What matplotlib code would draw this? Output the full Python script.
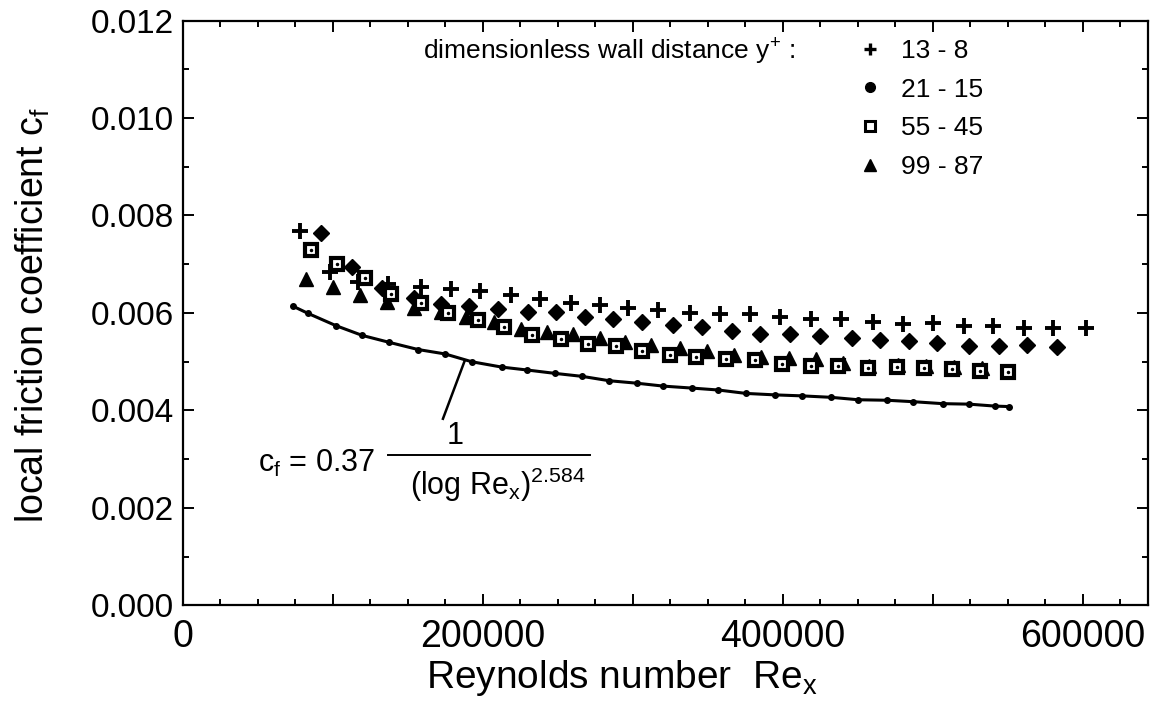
import matplotlib
matplotlib.use('Agg')
import matplotlib.pyplot as plt
from matplotlib.lines import Line2D
from matplotlib.ticker import MultipleLocator, FuncFormatter

# ─── data ────────────────────────────────────────────────────────────────────
# y+ = 13 - 8
RE_13 = [78000, 98000, 117000, 137000, 159000, 179000, 198000, 219000, 238000,
         259000, 278000, 297000, 317000, 338000, 358000, 378000, 398000, 419000,
         439000, 460000, 480000, 500000, 521000, 540000, 561000, 580000, 602000]
CF_13 = [0.00768, 0.00685, 0.00663, 0.00659, 0.00654, 0.00650, 0.00645, 0.00636,
         0.00628, 0.00621, 0.00616, 0.00611, 0.00606, 0.00601, 0.00597, 0.00597,
         0.00591, 0.00587, 0.00587, 0.00582, 0.00577, 0.00579, 0.00573, 0.00573,
         0.00569, 0.00569, 0.00569]

# y+ = 21 - 15
RE_21 = [92000, 113000, 133000, 154000, 172000, 191000, 210000, 230000, 249000,
         268000, 287000, 306000, 327000, 346000, 366000, 385000, 405000, 425000,
         446000, 465000, 484000, 503000, 524000, 544000, 563000, 583000]
CF_21 = [0.00765, 0.00695, 0.00651, 0.00630, 0.00618, 0.00615, 0.00609, 0.00603,
         0.00602, 0.00591, 0.00587, 0.00582, 0.00575, 0.00572, 0.00563, 0.00557,
         0.00557, 0.00553, 0.00549, 0.00544, 0.00543, 0.00538, 0.00532, 0.00532,
         0.00534, 0.00530]

# y+ = 55 - 45
RE_55 = [85500, 103000, 121500, 139000, 159000, 177000, 197000, 214000, 233000,
         252000, 270000, 289000, 306000, 325000, 342000, 362000, 381500, 399500,
         419000, 437000, 457000, 476000, 494000, 513000, 531500, 550000]
CF_55 = [0.00730, 0.00700, 0.00671, 0.00639, 0.00620, 0.00600, 0.00586, 0.00571,
         0.00555, 0.00546, 0.00537, 0.00532, 0.00521, 0.00514, 0.00510, 0.00506,
         0.00503, 0.00496, 0.00492, 0.00492, 0.00488, 0.00490, 0.00487, 0.00485,
         0.00482, 0.00478]

# y+ = 99 - 87
RE_99 = [82500, 100500, 118000, 136000, 154000, 172000, 189000, 207500, 225500,
         243000, 260500, 278000, 295000, 312500, 331500, 349500, 367500, 385500,
         404000, 422000, 440500, 457500, 477000, 495500, 514000, 533000]
CF_99 = [0.00669, 0.00653, 0.00637, 0.00623, 0.00610, 0.00602, 0.00592, 0.00582,
         0.00568, 0.00560, 0.00556, 0.00548, 0.00541, 0.00534, 0.00528, 0.00522,
         0.00513, 0.00509, 0.00507, 0.00505, 0.00497, 0.00491, 0.00493, 0.00491,
         0.00489, 0.00487]

# correlation curve c_f = 0.37 / (log Re_x)^2.584
RE_CORR = [73500, 83700, 102200, 119700, 137400, 157000, 174900, 192700, 212700,
           229700, 248500, 266300, 284400, 302700, 320400, 339300, 357100, 375500,
           394900, 412700, 432200, 450400, 469500, 487100, 506700, 524200, 541500,
           551000]
CF_CORR = [0.00614, 0.00599, 0.00574, 0.00554, 0.00540, 0.00525, 0.00516, 0.00500,
           0.00489, 0.00483, 0.00476, 0.00470, 0.00461, 0.00456, 0.00450, 0.00446,
           0.00442, 0.00435, 0.00432, 0.00430, 0.00427, 0.00422, 0.00421, 0.00418,
           0.00414, 0.00413, 0.00409, 0.00408]

LABELS = ["13 - 8", "21 - 15", "55 - 45", "99 - 87"]

plt.rcParams.update({
    "font.family": ["Liberation Sans", "DejaVu Sans"],
    "font.size": 19,
    "mathtext.fontset": "custom",
    "mathtext.rm": "Liberation Sans",
    "mathtext.it": "Liberation Sans:italic",
    "axes.linewidth": 1.6,
})

fig = plt.figure(figsize=(11.51, 7.07), dpi=100)
ax = fig.add_axes([0.1587, 0.1436, 0.9974 - 0.1587, 0.971 - 0.1436])

K = "black"
ax.plot(RE_CORR, CF_CORR, "-", color=K, lw=2.2, marker="o", ms=4, zorder=2)
ax.plot(RE_13, CF_13, "+", ls="none", color=K, ms=11, mew=2.8, zorder=3)
ax.plot(RE_21, CF_21, "D", ls="none", color=K, ms=8.5, zorder=3)
ax.plot(RE_55, CF_55, "s", ls="none", mfc="white", mec=K, mew=3, ms=8.5,
        zorder=4)
ax.plot(RE_55, CF_55, ".", ls="none", color=K, ms=3, zorder=5)
ax.plot(RE_99, CF_99, "^", ls="none", color=K, ms=10.5, zorder=3)

# ─── formula with leader line ────────────────────────────────────────────────
ax.plot([188000, 173500], [0.00502, 0.00383], color=K, lw=1.8)
ax.text(0.078, 0.242, r"c$_\mathregular{f}$ = 0.37", transform=ax.transAxes,
        ha="left", va="center", fontsize=22)
ax.text(0.282, 0.290, "1", transform=ax.transAxes,
        ha="center", va="center", fontsize=22)
ax.plot([0.2127, 0.4220], [0.2573, 0.2573], color=K, lw=1.4,
        transform=ax.transAxes)
ax.text(0.2355, 0.206,
        r"$\mathregular{\left(log\ Re_x\right)^{2.584}}$",
        transform=ax.transAxes, ha="left", va="center", fontsize=22)

ax.set_xlim(0, 643500)
ax.set_ylim(0, 0.012)
ax.xaxis.set_major_locator(MultipleLocator(100000))
ax.xaxis.set_minor_locator(MultipleLocator(25000))
ax.xaxis.set_major_formatter(FuncFormatter(
    lambda v, p: f"{v:.0f}" if round(v) % 200000 == 0 else ""))
ax.yaxis.set_major_locator(MultipleLocator(0.002))
ax.yaxis.set_minor_locator(MultipleLocator(0.001))
ax.yaxis.set_major_formatter(FuncFormatter(lambda v, p: f"{v:.3f}"))
ax.tick_params(which="both", direction="in", top=True, right=True, width=1.4)
ax.tick_params(which="major", length=8)
ax.tick_params(which="minor", length=4.5)
ax.tick_params(axis="x", pad=10, labelsize=27)
ax.tick_params(axis="y", pad=6, labelsize=24)

ax.set_xlabel(r"Reynolds number  Re$_\mathregular{x}$", fontsize=28)
ax.xaxis.set_label_coords(0.455, -0.090)
ax.set_ylabel(r"local friction coefficient c$_\mathregular{f}$", fontsize=27)
ax.yaxis.set_label_coords(-0.135, 0.497)

# ─── legend: title sits left of the first entry ──────────────────────────────
ax.text(0.634, 0.946, r"dimensionless wall distance y$^\mathregular{+}$ :",
        transform=ax.transAxes, ha="right", va="center", fontsize=19)
handles = [
    Line2D([], [], ls="none", marker="+", color=K, ms=8, mew=2.4),
    Line2D([], [], ls="none", marker="o", color=K, ms=7),
    Line2D([], [], ls="none", marker="s", mfc="white", mec=K, mew=2.2, ms=7.5),
    Line2D([], [], ls="none", marker="^", color=K, ms=8),
]
ax.legend(handles, LABELS, loc="upper left", bbox_to_anchor=(0.70, 0.968),
          frameon=False, fontsize=19, borderpad=0, borderaxespad=0,
          handlelength=0.9, handletextpad=0.7, labelspacing=0.55)

fig.savefig("out.png", dpi=100)
